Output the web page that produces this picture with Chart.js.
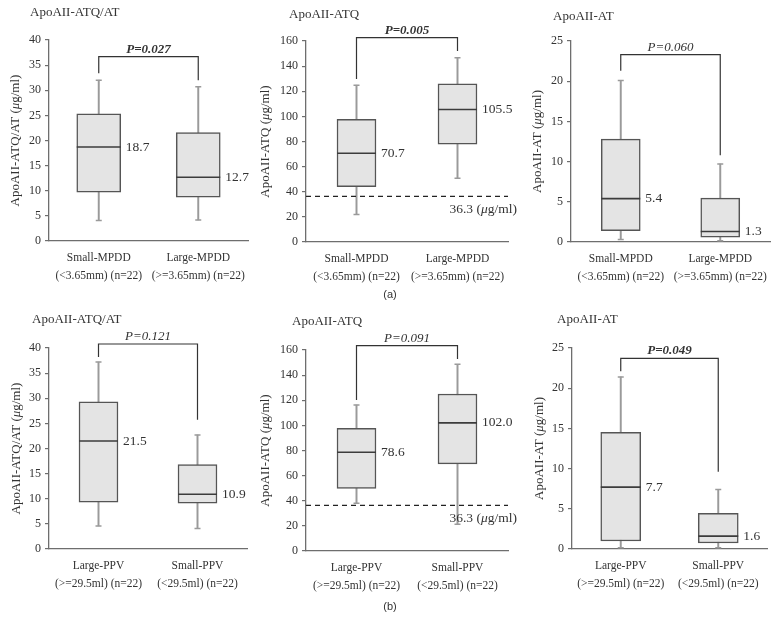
<!DOCTYPE html>
<html>
<head>
<meta charset="utf-8">
<script src="https://cdn.jsdelivr.net/npm/chart.js@4"></script>
<style>
  body { margin: 0; background: #fff; width: 780px; height: 632px; position: relative; overflow: hidden; }
  .panel { position: absolute; }
  .tag { position: absolute; width: 40px; text-align: center; font: 11px "Liberation Sans", Arial, sans-serif; color: #333; z-index: 5; }
</style>
</head>
<body>
<div class="panel" id="p0"><canvas id="c0"></canvas></div>
<div class="panel" id="p1"><canvas id="c1"></canvas></div>
<div class="panel" id="p2"><canvas id="c2"></canvas></div>
<div class="panel" id="p3"><canvas id="c3"></canvas></div>
<div class="panel" id="p4"><canvas id="c4"></canvas></div>
<div class="panel" id="p5"><canvas id="c5"></canvas></div>
<div class="tag" style="left:370px;top:288px">(a)</div>
<div class="tag" style="left:370px;top:600px">(b)</div>
<script>
// groups
const mpddLabels = [["Small-MPDD", "(<3.65mm) (n=22)"], ["Large-MPDD", "(>=3.65mm) (n=22)"]];
const ppvLabels = [["Large-PPV", "(>=29.5ml) (n=22)"], ["Small-PPV", "(<29.5ml) (n=22)"]];

// one entry per panel: top row (a) then bottom row (b)
const panelTitles = ["ApoAII-ATQ/AT", "ApoAII-ATQ", "ApoAII-AT", "ApoAII-ATQ/AT", "ApoAII-ATQ", "ApoAII-AT"];
const yMax = [40, 160, 25, 40, 160, 25];
const yStep = [5, 20, 5, 5, 20, 5];
const groupLabels = [mpddLabels, mpddLabels, mpddLabels, ppvLabels, ppvLabels, ppvLabels];

// box plot stats, [first group, second group]
const lowWhisker    = [[4.1, 4.2], [21.8, 50.7], [0.3, 0.15], [4.6, 4.1], [38.0, 21.3], [0.15, 0.15]];
const lowerQuartile = [[9.7, 8.7], [44.0, 77.8], [1.4, 0.6], [9.3, 9.1], [49.9, 69.4], [1.0, 0.75]];
const medians       = [[18.7, 12.7], [70.7, 105.5], [5.4, 1.3], [21.5, 10.9], [78.6, 102.0], [7.7, 1.6]];
const upperQuartile = [[25.3, 21.6], [97.7, 126.0], [12.8, 5.45], [29.3, 16.8], [97.7, 125.0], [14.5, 4.45]];
const highWhisker   = [[32.0, 30.7], [124.8, 146.7], [20.1, 9.7], [37.2, 22.7], [116.2, 148.6], [21.4, 7.4]];

// significance brackets
const pLabels = ["P=0.027", "P=0.005", "P=0.060", "P=0.121", "P=0.091", "P=0.049"];
const pSignificant = [true, true, false, false, false, true];
const bracketTop = [36.7, 162.7, 23.3, 40.8, 163.5, 23.7];
const bracketLeftEnd = [33.4, 129.8, 21.3, 38.2, 120.2, 22.1];
const bracketRightEnd = [32.0, 152.0, 10.8, 25.7, 152.9, 9.6];

// cutoff line (ATQ panels only)
const cutoffValue = [null, 36.3, null, null, 36.3, null];

// page geometry of each panel (canvas + plot area), px
const panelBoxes = [
  { x: 0,   y: 0,   w: 258, h: 292, l: 49,  t: 40,  r: 248, b: 241, titleX: 30,  titleY: 13,  yTitleX: 16,  box: 44 },
  { x: 256, y: 0,   w: 264, h: 292, l: 306, t: 41,  r: 508, b: 242, titleX: 289, titleY: 15,  yTitleX: 266, box: 39 },
  { x: 518, y: 0,   w: 262, h: 292, l: 571, t: 41,  r: 770, b: 242, titleX: 553, titleY: 17,  yTitleX: 538, box: 39 },
  { x: 0,   y: 298, w: 258, h: 300, l: 49,  t: 348, r: 247, b: 549, titleX: 32,  titleY: 320, yTitleX: 17,  box: 39 },
  { x: 256, y: 298, w: 264, h: 300, l: 306, t: 350, r: 508, b: 551, titleX: 292, titleY: 322, yTitleX: 266, box: 39 },
  { x: 518, y: 298, w: 262, h: 300, l: 572, t: 348, r: 767, b: 549, titleX: 557, titleY: 320, yTitleX: 540, box: 40 }
];

const serif = '"Liberation Serif", "DejaVu Serif", serif';
const textColor = "#333";
const axisColor = "#6e6e6e";

// draws a run of [text, italic, bold] pieces starting at x
function drawPieces(ctx, pieces, x, y, size, align) {
  const fontOf = (p) => (p[1] ? "italic " : "") + (p[2] ? "bold " : "") + size + "px " + serif;
  let total = 0;
  pieces.forEach((p) => { ctx.font = fontOf(p); total += ctx.measureText(p[0]).width; });
  let cx = align === "center" ? x - total / 2 : align === "right" ? x - total : x;
  ctx.textAlign = "left";
  pieces.forEach((p) => {
    ctx.font = fontOf(p);
    ctx.fillText(p[0], cx, y);
    cx += ctx.measureText(p[0]).width;
  });
}

function unitPieces(prefix) {
  return [[prefix + " (", false], ["\u03bc", true], ["g/ml)", false]];
}

function boxExtras(i) {
  const g = panelBoxes[i];
  return {
    id: "boxExtras" + i,
    afterDraw(chart) {
      const { ctx, chartArea, scales } = chart;
      const x = scales.x, y = scales.y;
      ctx.save();
      ctx.fillStyle = textColor;

      // panel title
      ctx.textBaseline = "middle";
      drawPieces(ctx, [[panelTitles[i], false]], g.titleX - g.x, g.titleY - g.y, 13, "left");

      // y axis title
      ctx.save();
      ctx.translate(g.yTitleX - g.x, (chartArea.top + chartArea.bottom) / 2);
      ctx.rotate(-Math.PI / 2);
      drawPieces(ctx, unitPieces(panelTitles[i]), 0, 0, 13, "center");
      ctx.restore();

      // median labels
      medians[i].forEach((m, j) => {
        const px = x.getPixelForValue(j) + g.box / 2 + 5;
        drawPieces(ctx, [[m.toFixed(1), false]], px, y.getPixelForValue(m), 13.5, "left");
      });

      // cutoff dashed line
      if (cutoffValue[i] !== null) {
        const cy = y.getPixelForValue(cutoffValue[i]);
        ctx.strokeStyle = "#222";
        ctx.lineWidth = 1.2;
        ctx.setLineDash([5, 4]);
        ctx.beginPath();
        ctx.moveTo(chartArea.left, cy);
        ctx.lineTo(chartArea.right, cy);
        ctx.stroke();
        ctx.setLineDash([]);
        drawPieces(ctx, unitPieces(cutoffValue[i].toFixed(1)), chartArea.right + 9, cy + 13, 13.5, "right");
      }

      // significance bracket
      const x0 = x.getPixelForValue(0), x1 = x.getPixelForValue(1);
      const top = y.getPixelForValue(bracketTop[i]);
      ctx.strokeStyle = "#333";
      ctx.lineWidth = 1.2;
      ctx.beginPath();
      ctx.moveTo(x0, y.getPixelForValue(bracketLeftEnd[i]));
      ctx.lineTo(x0, top);
      ctx.lineTo(x1, top);
      ctx.lineTo(x1, y.getPixelForValue(bracketRightEnd[i]));
      ctx.stroke();
      ctx.textBaseline = "alphabetic";
      drawPieces(ctx, [[pLabels[i], true, pSignificant[i]]], (x0 + x1) / 2, top - 4, 13, "center");

      ctx.restore();
    }
  };
}

panelBoxes.forEach((g, i) => {
  const wrap = document.getElementById("p" + i);
  wrap.style.left = g.x + "px";
  wrap.style.top = g.y + "px";
  const canvas = document.getElementById("c" + i);
  canvas.width = g.w;
  canvas.height = g.h;

  new Chart(canvas, {
    type: "bar",
    data: {
      labels: groupLabels[i],
      datasets: [
        {
          // whisker stem
          data: lowWhisker[i].map((v, j) => [v, highWhisker[i][j]]),
          backgroundColor: "#9a9a9a",
          barThickness: 1.3,
          grouped: false,
          order: 3
        },
        {
          // interquartile box
          data: lowerQuartile[i].map((v, j) => [v, upperQuartile[i][j]]),
          backgroundColor: "#e4e4e4",
          borderColor: "#555",
          borderWidth: 1.5,
          borderSkipped: false,
          barThickness: g.box,
          grouped: false,
          order: 2
        },
        {
          type: "line",
          data: medians[i],
          showLine: false,
          pointStyle: "line",
          pointRadius: g.box / 2,
          pointBorderColor: "#3c3c3c",
          pointBorderWidth: 1.6,
          order: 1
        },
        {
          type: "line",
          data: highWhisker[i],
          showLine: false,
          pointStyle: "line",
          pointRadius: 3,
          pointBorderColor: "#9a9a9a",
          pointBorderWidth: 1.5,
          order: 1
        },
        {
          type: "line",
          data: lowWhisker[i],
          showLine: false,
          pointStyle: "line",
          pointRadius: 3,
          pointBorderColor: "#9a9a9a",
          pointBorderWidth: 1.5,
          order: 1
        }
      ]
    },
    options: {
      responsive: false,
      animation: false,
      events: [],
      layout: { autoPadding: false, padding: { left: 0, top: g.t - g.y, right: g.x + g.w - g.r, bottom: 0 } },
      plugins: { legend: { display: false }, tooltip: { enabled: false } },
      scales: {
        x: {
          grid: { drawOnChartArea: false, drawTicks: false },
          border: { color: axisColor, width: 1.3 },
          ticks: {
            color: textColor, padding: 8, maxRotation: 0, minRotation: 0, autoSkip: false,
            font: { family: serif, size: 11.5, lineHeight: 1.55 }
          },
          afterFit: (s) => { s.height = g.y + g.h - g.b; s.paddingLeft = 0; s.paddingRight = 0; }
        },
        y: {
          min: 0,
          max: yMax[i],
          ticks: { stepSize: yStep[i], color: textColor, padding: 4, font: { family: serif, size: 12 } },
          grid: { drawOnChartArea: false, tickLength: 4, color: axisColor, lineWidth: 1.2 },
          border: { color: axisColor, width: 1.3 },
          afterFit: (s) => { s.width = g.l - g.x; }
        }
      }
    },
    plugins: [boxExtras(i)]
  });
});
</script>
</body>
</html>
